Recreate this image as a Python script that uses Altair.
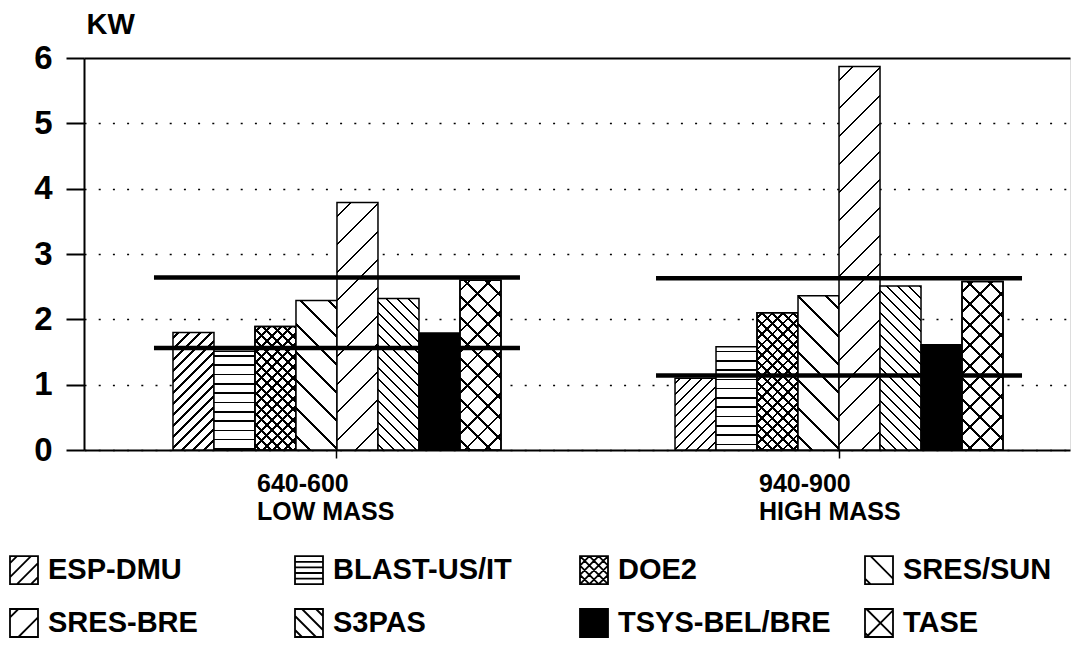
import math
import altair as alt
import pandas as pd

# ---------------- data ----------------
groups = ["640-600", "940-900"]
group_subtitles = ["LOW MASS", "HIGH MASS"]
series = ["ESP-DMU", "BLAST-US/IT", "DOE2", "SRES/SUN",
          "SRES-BRE", "S3PAS", "TSYS-BEL/BRE", "TASE"]
kw_low_mass = [1.80, 1.51, 1.89, 2.29, 3.79, 2.32, 1.79, 2.60]
kw_high_mass = [1.10, 1.58, 2.10, 2.36, 5.87, 2.51, 1.61, 2.58]
band_upper = [2.64, 2.63]
band_lower = [1.56, 1.14]
y_ticks = [0, 1, 2, 3, 4, 5, 6]

# ---------------- layout / style ----------------
FONT = "Liberation Sans"
PLOT_W, PLOT_H = 986, 392
Y_MAX = 6
PX_PER_KW = PLOT_H / Y_MAX
X_PAD_INNER, X_PAD_OUTER, X_ALIGN = 0.30, 0.132, 0.583
STEP = PLOT_W / (len(groups) - X_PAD_INNER + 2 * X_PAD_OUTER)
BANDWIDTH = STEP * (1 - X_PAD_INNER)
BAR_W = 41.0
XO_PAD_OUTER = (BANDWIDTH / BAR_W - len(series)) / 2

# hatch patterns: (direction, period in px)
patterns = {
    "ESP-DMU": [("/", 11)],
    "BLAST-US/IT": [("-", 9.3)],
    "DOE2": [("/", 10.5), ("\\", 10.5)],
    "SRES/SUN": [("\\", 28)],
    "SRES-BRE": [("/", 28)],
    "S3PAS": [("\\", 11)],
    "TSYS-BEL/BRE": [],
    "TASE": [("/", 20.5), ("\\", 20.5)],
}


def hatch_gradient(kind, period, w, h, bg):
    if kind == "-":
        length = h
        th = 1.6
        x1, y1, x2, y2 = 0, 0, 0, 1
    else:
        length = w + h
        th = 2.6
        s = (w + h) / (w * w + h * h)
        a, b = w * s, h * s
        if kind == "/":
            x1, y1, x2, y2 = 0, 0, a, b
        else:
            x1, y1, x2, y2 = 0, 1, a, 1 - b
    stops = [(0.0, bg)]
    c = period / 2
    while c - th / 2 < length:
        lo = max(0.0, (c - th / 2) / length)
        hi = min(1.0, (c + th / 2) / length)
        stops += [(lo, bg), (lo, "black"), (hi, "black"), (hi, bg)]
        c += period
    stops.append((1.0, bg))
    return alt.LinearGradient(
        gradient="linear",
        stops=[alt.GradientStop(offset=round(o, 5), color=col) for o, col in stops],
        x1=round(x1, 5), y1=round(y1, 5), x2=round(x2, 5), y2=round(y2, 5),
    )


# legend symbol paths in [-1, 1] space
def slash(c):
    x0, x1 = max(-1, c - 1), min(1, c + 1)
    return f"M{x0:.3f},{c - x0:.3f}L{x1:.3f},{c - x1:.3f}"


def back(c):
    x0, x1 = max(-1, c - 1), min(1, c + 1)
    return f"M{x0:.3f},{x0 - c:.3f}L{x1:.3f},{x1 - c:.3f}"


def horiz(y):
    return f"M-1,{y:.3f}L1,{y:.3f}"


SQUARE = "M-1,-1L1,-1L1,1L-1,1Z"
legend_paths = [
    SQUARE + "".join(slash(c) for c in [-1.5, -0.5, 0.5, 1.5]),
    SQUARE + "".join(horiz(y) for y in [-0.6, -0.2, 0.2, 0.6]),
    SQUARE + "".join(slash(c) for c in [-1.33, -0.67, 0, 0.67, 1.33])
    + "".join(back(c) for c in [-1.33, -0.67, 0, 0.67, 1.33]),
    SQUARE + back(0.4) + back(-1.6),
    SQUARE + slash(0.6) + slash(-1.4),
    SQUARE + "".join(back(c) for c in [-1.5, -0.5, 0.5, 1.5]),
    SQUARE,
    SQUARE + slash(0.1) + back(0.1) + back(-1.7),
]
legend_fills = ["white"] * 6 + ["black", "white"]
legend_strokes = ["black"] * 8

# ---------------- tables ----------------
rows = []
for g, vals in zip(groups, [kw_low_mass, kw_high_mass]):
    for s, v in zip(series, vals):
        rows.append({"group": g, "series": s, "kw": v})
df = pd.DataFrame(rows)
df_ref = pd.DataFrame({"group": groups * 2, "kw": band_upper + band_lower})

label_expr = " : ".join(
    f"datum.label == '{g}' ? ['{g}', '{sub}']" for g, sub in zip(groups, group_subtitles)
) + " : datum.label"

X = alt.X(
    "group:N",
    scale=alt.Scale(domain=groups, paddingInner=X_PAD_INNER,
                    paddingOuter=X_PAD_OUTER, align=X_ALIGN),
    axis=alt.Axis(title=None, labelAngle=0, tickSize=8, tickWidth=1.5,
                  tickColor="black", domainColor="black", domainWidth=2,
                  labelFont=FONT, labelFontSize=25, labelFontWeight="bold",
                  labelColor="black", labelPadding=13, labelLineHeight=28,
                  labelAlign="left", labelOffset=-80,
                  labelBaseline="top", labelExpr=label_expr, grid=False),
)
XO = alt.XOffset(
    "series:N",
    scale=alt.Scale(domain=series, paddingInner=0, paddingOuter=XO_PAD_OUTER),
)
Y = alt.Y(
    "kw:Q",
    scale=alt.Scale(domain=[0, Y_MAX], nice=False, zero=True),
    axis=alt.Axis(
        values=y_ticks, tickSize=18, tickWidth=2, tickColor="black",
        domainColor="black", domainWidth=2,
        labelFont=FONT, labelFontSize=33, labelFontWeight="bold",
        labelColor="black", labelPadding=14,
        grid=True, gridColor="black", gridOpacity=1,
        gridWidth={"condition": {"test": "datum.value === 6", "value": 2}, "value": 1.5},
        gridDash={"condition": {"test": "datum.value === 6", "value": []}, "value": [2, 12.2]},
        title="KW", titleAngle=0, titleAlign="left", titleBaseline="alphabetic",
        titleX=2, titleY=-25, titleFont=FONT, titleFontSize=29,
        titleFontWeight="bold", titleColor="black",
    ),
)

legend_kwargs = dict(
    title=None, orient="none", legendX=-75, legendY=497, columns=4,
    direction="horizontal",
    symbolSize=784, symbolStrokeColor="black", symbolStrokeWidth=1.8,
    symbolOpacity=1, labelFont=FONT, labelFontSize=29, labelFontWeight="bold",
    labelColor="black", labelLimit=400, labelOffset=9, columnPadding=30,
    rowPadding=17, gridAlign="all",
)

legend_layer = alt.Chart(df).mark_point(size=1, opacity=0, strokeWidth=1.8).encode(
    x=X, xOffset=XO, y=Y,
    shape=alt.Shape("series:N", scale=alt.Scale(domain=series, range=legend_paths),
                    legend=alt.Legend(**legend_kwargs)),
    fill=alt.Fill("series:N", scale=alt.Scale(domain=series, range=legend_fills),
                  legend=alt.Legend(**legend_kwargs)),
    stroke=alt.Stroke("series:N", scale=alt.Scale(domain=series, range=legend_strokes),
                      legend=alt.Legend(**legend_kwargs)),
)

layers = [legend_layer]
for g, vals in zip(groups, [kw_low_mass, kw_high_mass]):
    for s, v in zip(series, vals):
        h = v * PX_PER_KW
        base = alt.Chart(df).transform_filter(
            (alt.datum.group == g) & (alt.datum.series == s)
        )
        pats = patterns[s]
        if not pats:
            layers.append(base.mark_bar(fill="black", stroke="black", strokeWidth=1.5)
                          .encode(x=X, xOffset=XO, y=Y))
        for i, (kind, period) in enumerate(pats):
            bg = "white" if i == 0 else "rgba(255,255,255,0)"
            layers.append(
                base.mark_bar(fill=hatch_gradient(kind, period, BAR_W, h, bg),
                              stroke="black", strokeWidth=1.5)
                .encode(x=X, xOffset=XO, y=Y)
            )

ref_lines = alt.Chart(df_ref).mark_tick(
    orient="horizontal", size=366, thickness=4.5, color="black", opacity=1
).encode(x=X, y=Y)
layers.append(ref_lines)

chart = alt.layer(*layers).properties(
    width=PLOT_W, height=PLOT_H,
    padding={"left": 76, "top": 50, "right": 3, "bottom": 190},
    autosize="none",
).configure_view(stroke=None).configure(background="white")

chart.save("out.html", embed_options={"renderer": "svg", "actions": False})
